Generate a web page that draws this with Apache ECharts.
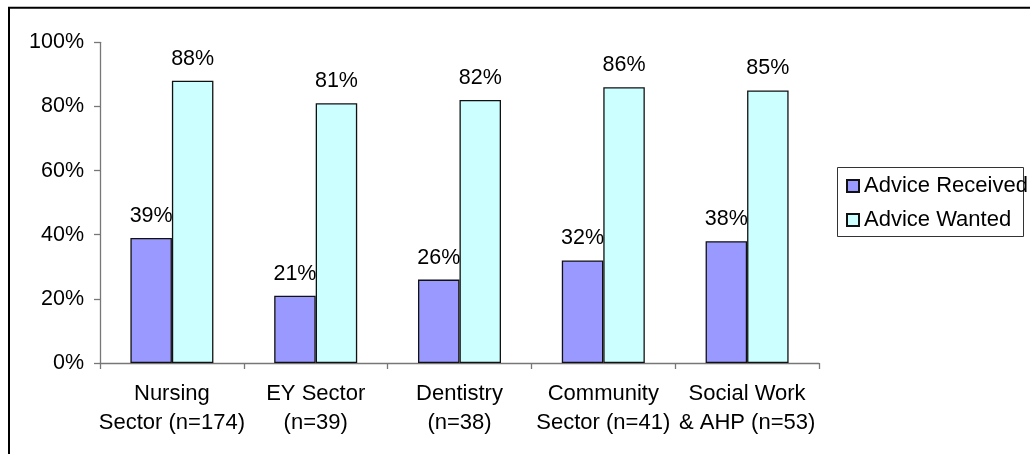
<!DOCTYPE html>
<html>
<head>
<meta charset="utf-8">
<script src="https://cdn.jsdelivr.net/npm/echarts@6/dist/echarts.min.js"></script>
<style>
  html, body { margin: 0; padding: 0; background: #fff; }
  #chart { width: 1030px; height: 454px; }
</style>
</head>
<body>
<div id="chart"></div>
<script>
// Sector groups and survey percentages
const categories = [
  'Nursing\nSector (n=174)',
  'EY Sector\n(n=39)',
  'Dentistry\n(n=38)',
  'Community\nSector (n=41)',
  'Social Work\n& AHP (n=53)'
];
const adviceReceived = [39, 21, 26, 32, 38];
const adviceWanted = [88, 81, 82, 86, 85];
const yTicks = { min: 0, max: 100, interval: 20 };

const FONT = 'Liberation Sans, Arial, sans-serif';

const chart = echarts.init(document.getElementById('chart'), null, { renderer: 'canvas' });

function barSeries(name, data, color) {
  return {
    name: name,
    type: 'bar',
    data: data,
    barWidth: 41.5,
    barGap: '0%',
    itemStyle: { color: color, borderColor: '#111', borderWidth: 1.3 },
    label: {
      show: true,
      position: 'top',
      distance: 11,
      formatter: '{c}%',
      color: '#000',
      fontFamily: FONT,
      fontSize: 21.5
    },
    emphasis: { disabled: true }
  };
}

chart.setOption({
  animation: false,
  backgroundColor: '#fff',
  textStyle: { fontFamily: FONT },
  grid: { left: 100, right: 211, top: 42.3, bottom: 91 },
  xAxis: {
    type: 'category',
    data: categories,
    boundaryGap: true,
    axisLine: { lineStyle: { color: '#777', width: 1.3 } },
    axisTick: { show: true, length: 6, alignWithLabel: false, lineStyle: { color: '#777', width: 1.3 } },
    axisLabel: {
      color: '#000',
      fontFamily: FONT,
      fontSize: 22,
      lineHeight: 29,
      margin: 16,
      interval: 0
    }
  },
  yAxis: {
    type: 'value',
    min: yTicks.min,
    max: yTicks.max,
    interval: yTicks.interval,
    axisLine: { show: true, lineStyle: { color: '#777', width: 1.3 } },
    axisTick: { show: true, length: 6, lineStyle: { color: '#777', width: 1.3 } },
    splitLine: { show: false },
    axisLabel: {
      formatter: '{value}%',
      color: '#000',
      fontFamily: FONT,
      fontSize: 21.5,
      margin: 16
    }
  },
  legend: {
    orient: 'vertical',
    left: 846,
    top: 175,
    padding: 0,
    itemGap: 12,
    itemWidth: 12,
    itemHeight: 12,
    icon: 'rect',
    selectedMode: false,
    textStyle: { color: '#000', fontFamily: FONT, fontSize: 22, lineHeight: 22 },
    data: ['Advice Received', 'Advice Wanted']
  },
  graphic: [
    {
      // outer frame
      type: 'rect',
      silent: true,
      shape: { x: 9, y: 7.7, width: 1100, height: 600 },
      style: { fill: 'none', stroke: '#000', lineWidth: 2 }
    },
    {
      // legend frame
      type: 'rect',
      silent: true,
      shape: { x: 837.5, y: 167.5, width: 186, height: 69 },
      style: { fill: 'none', stroke: '#333', lineWidth: 1 }
    }
  ],
  series: [
    barSeries('Advice Received', adviceReceived, '#9999FF'),
    barSeries('Advice Wanted', adviceWanted, '#CCFFFF')
  ]
});
</script>
</body>
</html>
